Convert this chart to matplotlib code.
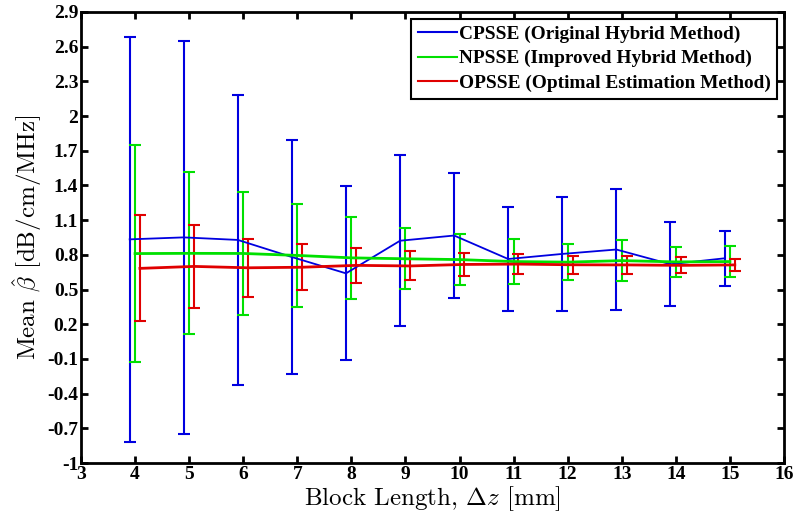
import matplotlib
matplotlib.use("Agg")
import matplotlib.pyplot as plt
from matplotlib.lines import Line2D
import numpy as np

plt.rcParams['mathtext.fontset'] = 'cm'
plt.rcParams['axes.unicode_minus'] = False

# block lengths [mm]
block_len = [4, 5, 6, 7, 8, 9, 10, 11, 12, 13, 14, 15]

# CPSSE (original hybrid)
cp_mean = [0.934, 0.951, 0.929, 0.781, 0.640, 0.922, 0.967, 0.764, 0.808, 0.846, 0.719, 0.770]
cp_std = [1.750, 1.700, 1.254, 1.008, 0.752, 0.738, 0.538, 0.450, 0.495, 0.523, 0.362, 0.240]

# NPSSE (improved hybrid)
np_mean = [0.811, 0.813, 0.812, 0.795, 0.774, 0.766, 0.759, 0.742, 0.737, 0.750, 0.739, 0.742]
np_std = [0.938, 0.700, 0.528, 0.447, 0.354, 0.265, 0.223, 0.193, 0.156, 0.176, 0.130, 0.132]

# OPSSE (optimal estimation)
op_mean = [0.683, 0.700, 0.688, 0.693, 0.709, 0.704, 0.717, 0.720, 0.714, 0.713, 0.709, 0.713]
op_std = [0.459, 0.362, 0.253, 0.200, 0.154, 0.125, 0.098, 0.083, 0.080, 0.075, 0.070, 0.050]

labels = ['CPSSE (Original Hybrid Method)',
          'NPSSE (Improved Hybrid Method)',
          'OPSSE (Optimal Estimation Method)']
colors = ['#0000e0', '#00e000', '#e00000']

x = np.array(block_len, dtype=float)

fig = plt.figure(figsize=(8, 5.25), dpi=100)
ax = fig.add_axes([81/800, 1 - 463/525, (784 - 81)/800, (463 - 12)/525])

ax.errorbar(x - 0.1, cp_mean, yerr=cp_std, color=colors[0], lw=1.3,
            elinewidth=1.5, capsize=4, capthick=1.5)
ax.errorbar(x, np_mean, yerr=np_std, color=colors[1], lw=2.0,
            elinewidth=1.5, capsize=4, capthick=1.5)
ax.errorbar(x + 0.09, op_mean, yerr=op_std, color=colors[2], lw=2.0,
            elinewidth=1.5, capsize=4, capthick=1.5)

ax.set_xlim(3, 16)
ax.set_ylim(-1, 2.9)
ax.set_xticks(range(3, 17))
yt = np.round(np.arange(-1, 2.95, 0.3), 1)
ax.set_yticks(yt)
ax.set_yticklabels(['%g' % v for v in yt])

for lab in ax.get_xticklabels() + ax.get_yticklabels():
    lab.set_fontfamily('Liberation Serif')
    lab.set_fontweight('bold')
    lab.set_fontsize(14)

ax.tick_params(direction='in', length=5, width=2, top=True, right=True, pad=2)
for s in ax.spines.values():
    s.set_linewidth(2)

ax.set_xlabel(r'Block Length, $\Delta z$ [mm]', family='cmr10', fontsize=18, labelpad=1)
ax.set_ylabel(r'Mean $\hat{\beta}$ [dB/cm/MHz]', family='cmr10', fontsize=18, labelpad=2)

handles = [Line2D([], [], color=c, lw=1.5) for c in colors]
leg = ax.legend(handles, labels, loc='upper right',
                prop=dict(family='Liberation Serif', weight='bold', size=13.9),
                fancybox=False, edgecolor='black', framealpha=1, handlelength=2.0,
                handletextpad=0.1, borderaxespad=0.35, labelspacing=0.35, borderpad=0.35)
leg.get_frame().set_linewidth(1.5)

fig.savefig('out.png', dpi=100)
